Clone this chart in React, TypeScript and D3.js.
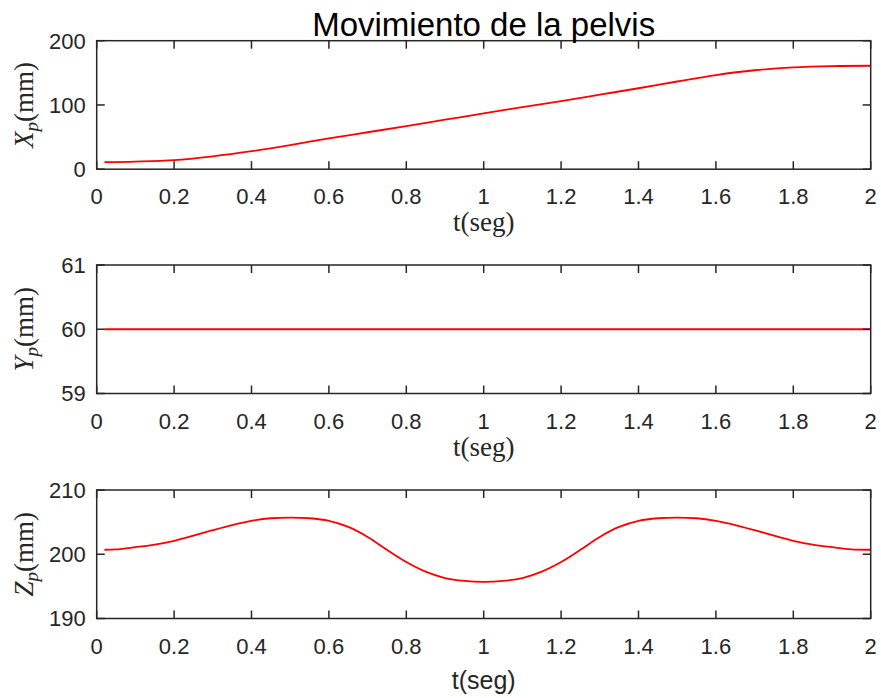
import React from 'react';
import * as d3 from 'd3';

// time samples (s)
const timeCoarse = [0.02, 0.1, 0.2, 0.3, 0.4, 0.5, 0.6, 0.7, 0.8, 0.9, 1.0, 1.1, 1.2, 1.3, 1.4, 1.5, 1.6, 1.7, 1.8, 1.9, 2.0];
const timeFine = [0.02, 0.05, 0.1, 0.15, 0.2, 0.25, 0.3, 0.35, 0.4, 0.45, 0.5, 0.55, 0.6, 0.65, 0.7, 0.75, 0.8, 0.85, 0.9, 0.95, 1.0,
  1.05, 1.1, 1.15, 1.2, 1.25, 1.3, 1.35, 1.4, 1.45, 1.5, 1.55, 1.6, 1.65, 1.7, 1.75, 1.8, 1.85, 1.9, 1.95, 2.0];
// pelvis position (mm)
const xPelvis = [11, 11.8, 14, 20, 28, 37.5, 48, 57.5, 67, 77, 87, 96.5, 106, 116, 126, 136.5, 146.5, 154, 158.5, 160.5, 161];
const yPelvis = [60, 60, 60, 60, 60, 60, 60, 60, 60, 60, 60, 60, 60, 60, 60, 60, 60, 60, 60, 60, 60];
const zPelvis = [200.7, 200.75, 201.1, 201.5, 202.1, 202.9, 203.75, 204.55, 205.2, 205.6, 205.7, 205.6, 205.2, 204.25, 202.7, 200.7, 198.8, 197.3, 196.3, 195.85, 195.7,
  195.85, 196.3, 197.3, 198.8, 200.7, 202.7, 204.25, 205.2, 205.6, 205.7, 205.6, 205.2, 204.55, 203.75, 202.9, 202.1, 201.5, 201.1, 200.75, 200.7];

const xTicks = [0, 0.2, 0.4, 0.6, 0.8, 1, 1.2, 1.4, 1.6, 1.8, 2];
const xTickLabels = ['0', '0.2', '0.4', '0.6', '0.8', '1', '1.2', '1.4', '1.6', '1.8', '2'];

const panels = [
  { name: 'X', time: timeCoarse, values: xPelvis, domain: [0, 200], ticks: [0, 100, 200], top: 40.7, serifX: true },
  { name: 'Y', time: timeCoarse, values: yPelvis, domain: [59, 61], ticks: [59, 60, 61], top: 265, serifX: true },
  { name: 'Z', time: timeFine, values: zPelvis, domain: [190, 210], ticks: [190, 200, 210], top: 490, serifX: false },
];

const W = 881;
const H = 698;
const left = 96.7;
const right = 870.7;
const ph = 128.5;
const tickLen = 8;
const axisColor = '#262626';
const sans = '"Liberation Sans", Arial, Helvetica, sans-serif';
const serif = '"Liberation Serif", "Times New Roman", serif';

const x = d3.scaleLinear().domain([0, 2]).range([left, right]);

const Panel = ({ p }: { p: typeof panels[number] }) => {
  const bottom = p.top + ph;
  const y = d3.scaleLinear().domain(p.domain).range([bottom, p.top]);
  const line = d3.line<number>()
    .x((_, i) => x(p.time[i]))
    .y(d => y(d))
    .curve(d3.curveCatmullRom.alpha(0.5));
  const cy = (p.top + bottom) / 2;
  return (
    <g>
      <path d={line(p.values) || ''} fill="none" stroke="#ff0000" strokeWidth={1.8} />
      {/* box */}
      <rect x={left} y={p.top} width={right - left} height={ph} fill="none" stroke={axisColor} strokeWidth={1.5} />
      {/* x ticks, top and bottom, inward */}
      {xTicks.map((t, i) => (
        <g key={i}>
          <line x1={x(t)} x2={x(t)} y1={bottom} y2={bottom - tickLen} stroke={axisColor} strokeWidth={1.5} />
          <line x1={x(t)} x2={x(t)} y1={p.top} y2={p.top + tickLen} stroke={axisColor} strokeWidth={1.5} />
          <text x={x(t)} y={bottom + 35} textAnchor="middle" fontFamily={sans} fontSize={22} fill={axisColor}>
            {xTickLabels[i]}
          </text>
        </g>
      ))}
      {/* y ticks, left and right */}
      {p.ticks.map((v, i) => (
        <g key={i}>
          <line x1={left} x2={left + tickLen} y1={y(v)} y2={y(v)} stroke={axisColor} strokeWidth={1.5} />
          <line x1={right} x2={right - tickLen} y1={y(v)} y2={y(v)} stroke={axisColor} strokeWidth={1.5} />
          <text x={left - 11} y={y(v)} dy="0.36em" textAnchor="end" fontFamily={sans} fontSize={22} fill={axisColor}>
            {v}
          </text>
        </g>
      ))}
      {/* y label */}
      <text transform={`translate(33,${cy}) rotate(-90)`} textAnchor="middle" fontFamily={serif} fontSize={27} fill={axisColor}>
        <tspan fontStyle="italic">{p.name}</tspan>
        <tspan fontStyle="italic" fontSize={19} dy={5}>p</tspan>
        <tspan dy={-5}>(mm)</tspan>
      </text>
      {/* x label */}
      {p.serifX ? (
        <text x={(left + right) / 2} y={bottom + 62} textAnchor="middle" fontFamily={serif} fontSize={27} fill={axisColor}>
          t(seg)
        </text>
      ) : (
        <text x={(left + right) / 2} y={bottom + 70} textAnchor="middle" fontFamily={sans} fontSize={25} fill={axisColor}>
          t(seg)
        </text>
      )}
    </g>
  );
};

export default function App() {
  return (
    <svg width={W} height={H} style={{ position: 'absolute', left: 0, top: 0, background: '#fff' }}>
      <rect width={W} height={H} fill="#fff" />
      {panels.map(p => <Panel key={p.name} p={p} />)}
      <text x={(left + right) / 2} y={36} textAnchor="middle" fontFamily={sans} fontSize={33} fill="#000">
        Movimiento de la pelvis
      </text>
    </svg>
  );
}
